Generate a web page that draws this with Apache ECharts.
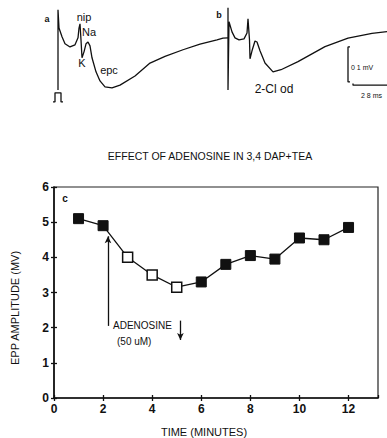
<!DOCTYPE html>
<html>
<head>
<meta charset="utf-8">
<script src="https://cdn.jsdelivr.net/npm/echarts@6/dist/echarts.min.js"></script>
<style>
html,body{margin:0;padding:0;background:#fff;}
#chart{width:387px;height:438px;}
</style>
</head>
<body>
<div id="chart"></div>
<script>
// ---- Panel c: EPP amplitude over time ----
const minutes = [1, 2, 3, 4, 5, 6, 7, 8, 9, 10, 11, 12];
const eppAmplitude = [5.1, 4.9, 4.0, 3.5, 3.15, 3.3, 3.8, 4.05, 3.95, 4.55, 4.5, 4.85];
const adenosinePresent = [false, false, true, true, true, false, false, false, false, false, false, false];
const xTickStep = 2;
const yTickStep = 1;
const adenosineOnArrow = [[2.2, 2.05], [2.2, 4.6]];   // [time, mV] start -> head
const adenosineOffArrow = [[5.15, 2.2], [5.15, 1.65]];

// ---- Panels a, b: recorded traces (time ms, potential uV) ----
const traceA = [
  [0.0, -3], [0.0, 226], [0.1, 174], [0.4, 149], [0.7, 129], [1.2, 120], [1.7, 126],
  [2.0, 146], [2.1, 174], [2.2, 186], [2.3, 140], [2.4, 89], [2.6, 106], [2.8, 129],
  [3.0, 134], [3.2, 123], [3.4, 89], [3.8, 49], [4.2, 23], [4.7, 6], [5.4, 3],
  [6.2, 11], [7.7, 37], [9.2, 74], [10.7, 93], [12.5, 112], [14.2, 128], [15.9, 140],
  [16.5, 145], [17.0, 146]
];
const traceB = [
  [17.0, 146], [17.0, 232], [17.0, -3], [17.1, 192], [17.4, 163], [17.7, 146],
  [18.1, 140], [18.6, 143], [18.9, 160], [19.0, 200], [19.15, 140], [19.2, 86],
  [19.4, 109], [19.7, 137], [19.9, 134], [20.2, 109], [20.7, 74], [21.5, 49],
  [22.3, 55], [24.0, 78], [26.7, 121], [29.0, 145], [31.4, 159], [32.9, 164]
];
const stimulusPulse = [[-0.5, -37], [-0.3, -37], [-0.3, -11], [0.3, -11], [0.3, -37], [0.5, -37]];
const scaleBarVoltage = [[29.2, 120], [29.0, 120], [29.0, 20], [29.2, 20]];
const scaleBarTime = [[29.5, 16], [29.5, 11], [33.2, 11]];

const chart = echarts.init(document.getElementById('chart'), null, {renderer: 'svg'});

const FONT = 'Liberation Sans';
const black = '#111';

const mainData = minutes.map((m, i) => ({
  value: [m, eppAmplitude[i]],
  itemStyle: adenosinePresent[i]
    ? {color: '#fff', borderColor: black, borderWidth: 1.5}
    : {color: black, borderColor: black, borderWidth: 1}
}));

function traceSeries(data) {
  return {
    type: 'line', xAxisIndex: 2, yAxisIndex: 2, data: data,
    showSymbol: false, symbol: 'none', silent: true, animation: false,
    lineStyle: {color: black, width: 1.3}
  };
}

const xLabelFmt = v => (Math.abs(v / xTickStep - Math.round(v / xTickStep)) < 1e-6 ? String(v) : '');
const yLabelFmt = v => (Math.abs(v / yTickStep - Math.round(v / yTickStep)) < 1e-6 ? String(v) : '');

const option = {
  animation: false,
  backgroundColor: '#fff',
  grid: [
    {left: 54, right: 9, top: 187, bottom: 40, show: true, borderColor: '#222', borderWidth: 1.2, containLabel: false},
    {left: 0, top: 0, width: 387, height: 110, show: false}
  ],
  xAxis: [
    {gridIndex: 0, type: 'value', min: 0, max: 13.2, interval: xTickStep, position: 'bottom',
     axisLine: {onZero: false, lineStyle: {color: black, width: 1.6}},
     axisTick: {inside: false, length: 3, lineStyle: {color: black, width: 1.3}},
     axisLabel: {formatter: xLabelFmt, color: black, fontFamily: FONT, fontWeight: 'bold', fontSize: 12, margin: 5, showMaxLabel: false},
     splitLine: {show: false}},
    {gridIndex: 0, type: 'value', min: 0, max: 13.2, interval: xTickStep, position: 'bottom',
     axisLine: {show: false}, axisTick: {inside: true, length: 3, lineStyle: {color: black, width: 1.3}},
     axisLabel: {show: false}, splitLine: {show: false}},
    {gridIndex: 1, type: 'value', min: -5.8, max: 32.9, show: false}
  ],
  yAxis: [
    {gridIndex: 0, type: 'value', min: 0, max: 6, interval: yTickStep, position: 'left',
     axisLine: {show: true, onZero: false, lineStyle: {color: black, width: 1.6}},
     axisTick: {show: true, inside: false, length: 3, lineStyle: {color: black, width: 1.3}},
     axisLabel: {formatter: yLabelFmt, color: black, fontFamily: FONT, fontWeight: 'bold', fontSize: 12, margin: 5},
     splitLine: {show: false}},
    {gridIndex: 0, type: 'value', min: 0, max: 6, interval: yTickStep, position: 'left',
     axisLine: {show: false}, axisTick: {show: true, inside: true, length: 3, lineStyle: {color: black, width: 1.3}},
     axisLabel: {show: false}, splitLine: {show: false}},
    {gridIndex: 1, type: 'value', min: -60, max: 254, show: false}
  ],
  series: [
    {
      type: 'line', xAxisIndex: 0, yAxisIndex: 0, data: mainData,
      symbol: 'rect', symbolSize: 10, showSymbol: true,
      lineStyle: {color: black, width: 1.3},
      z: 5,
      markLine: {
        silent: true, animation: false,
        symbol: ['none', 'arrow'], symbolSize: [5, 7],
        lineStyle: {color: black, width: 1.3, type: 'solid'},
        label: {show: false},
        data: [
          [{coord: adenosineOnArrow[0]}, {coord: adenosineOnArrow[1]}],
          [{coord: adenosineOffArrow[0]}, {coord: adenosineOffArrow[1]}]
        ]
      }
    },
    traceSeries(traceA),
    traceSeries(traceB),
    traceSeries(stimulusPulse),
    traceSeries(scaleBarVoltage),
    traceSeries(scaleBarTime)
  ],
  graphic: [
    {type: 'text', x: 210, y: 156, style: {text: 'EFFECT OF ADENOSINE IN 3,4 DAP+TEA', font: '10.5px "Liberation Sans"', fill: black, align: 'center', verticalAlign: 'middle'}},
    {type: 'text', x: 204, y: 432, style: {text: 'TIME (MINUTES)', font: '11px "Liberation Sans"', fill: black, align: 'center', verticalAlign: 'middle'}},
    {type: 'text', x: 15, y: 308, rotation: Math.PI / 2, style: {text: 'EPP AMPLITUDE (MV)', font: '11px "Liberation Sans"', fill: black, align: 'center', verticalAlign: 'middle'}},
    {type: 'text', x: 65, y: 198, style: {text: 'c', font: 'bold 10px "Liberation Sans"', fill: black, align: 'center', verticalAlign: 'middle'}},
    {type: 'text', x: 113, y: 325, style: {text: 'ADENOSINE', font: '10px "Liberation Sans"', fill: black, align: 'left', verticalAlign: 'middle'}},
    {type: 'text', x: 117, y: 341, style: {text: '(50 uM)', font: '10px "Liberation Sans"', fill: black, align: 'left', verticalAlign: 'middle'}},
    {type: 'text', x: 47, y: 19, style: {text: 'a', font: 'bold 9px "Liberation Sans"', fill: black, align: 'center', verticalAlign: 'middle'}},
    {type: 'text', x: 84, y: 17, style: {text: 'nip', font: '11px "Liberation Sans"', fill: black, align: 'center', verticalAlign: 'middle'}},
    {type: 'text', x: 89, y: 32, style: {text: 'Na', font: '11px "Liberation Sans"', fill: black, align: 'center', verticalAlign: 'middle'}},
    {type: 'text', x: 82, y: 63, style: {text: 'K', font: '11px "Liberation Sans"', fill: black, align: 'center', verticalAlign: 'middle'}},
    {type: 'text', x: 109, y: 70, style: {text: 'epc', font: '11px "Liberation Sans"', fill: black, align: 'center', verticalAlign: 'middle'}},
    {type: 'text', x: 219, y: 15, style: {text: 'b', font: 'bold 9px "Liberation Sans"', fill: black, align: 'center', verticalAlign: 'middle'}},
    {type: 'text', x: 274, y: 89, style: {text: '2-Cl od', font: '12px "Liberation Sans"', fill: black, align: 'center', verticalAlign: 'middle'}},
    {type: 'text', x: 351, y: 67, style: {text: '0 1 mV', font: '7px "Liberation Sans"', fill: black, align: 'left', verticalAlign: 'middle'}},
    {type: 'text', x: 361, y: 95, style: {text: '2 8 ms', font: '7px "Liberation Sans"', fill: black, align: 'left', verticalAlign: 'middle'}}
  ]
};

chart.setOption(option);
</script>
</body>
</html>
